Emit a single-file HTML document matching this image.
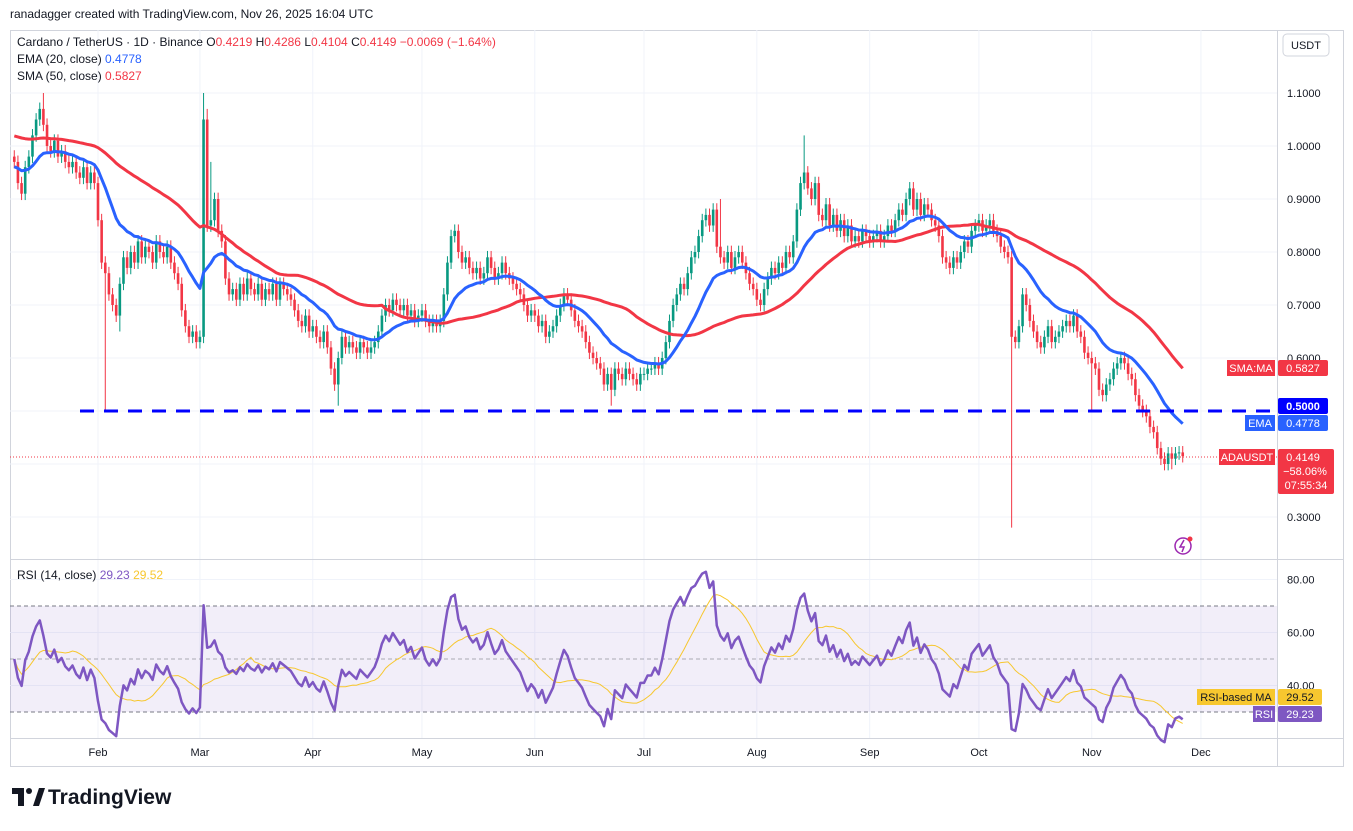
<!DOCTYPE html>
<html><head><meta charset="utf-8">
<style>
body{margin:0;background:#fff;font-family:"Liberation Sans",sans-serif;}
svg text{font-family:"Liberation Sans",sans-serif;}
</style></head>
<body>
<svg id="chart" width="1353" height="826" viewBox="0 0 1353 826" xmlns="http://www.w3.org/2000/svg">
<rect width="1353" height="826" fill="#fff"/>
<text x="10" y="18" font-size="12" fill="#131722">ranadagger created with TradingView.com, Nov 26, 2025 16:04 UTC</text>
<rect x="10.5" y="30.5" width="1333" height="736" fill="none" stroke="#d1d4dc"/>
<g id="grid"></g>
<rect x="10" y="606" width="1267" height="106" fill="#7e57c2" fill-opacity="0.1"/>
<line x1="10" x2="1277" y1="606" y2="606" stroke="#787b86" stroke-dasharray="4,3"/>
<line x1="10" x2="1277" y1="659" y2="659" stroke="#787b86" stroke-opacity="0.6" stroke-dasharray="4,3"/>
<line x1="10" x2="1277" y1="712" y2="712" stroke="#787b86" stroke-dasharray="4,3"/>
<line x1="10" x2="1343" y1="559.5" y2="559.5" stroke="#d1d4dc"/>
<line x1="1277.5" x2="1277.5" y1="30" y2="766" stroke="#d1d4dc"/>
<line x1="10" x2="1343" y1="738.5" y2="738.5" stroke="#d1d4dc"/>
<g id="candles"></g>
<g id="lines"></g>
<line x1="80" x2="1277" y1="411" y2="411" stroke="#0000ff" stroke-width="3" stroke-dasharray="14,10"/>
<line x1="10" x2="1277" y1="457" y2="457" stroke="#f23645" stroke-dasharray="1,2"/>
<g id="axes"></g>
<text x="17" y="46" font-size="12" fill="#131722">Cardano / TetherUS · 1D · Binance <tspan fill="#131722">O</tspan><tspan fill="#f23645">0.4219</tspan> <tspan fill="#131722">H</tspan><tspan fill="#f23645">0.4286</tspan> <tspan fill="#131722">L</tspan><tspan fill="#f23645">0.4104</tspan> <tspan fill="#131722">C</tspan><tspan fill="#f23645">0.4149 −0.0069 (−1.64%)</tspan></text>
<text x="17" y="63" font-size="12" fill="#131722">EMA (20, close) <tspan fill="#2962ff">0.4778</tspan></text>
<text x="17" y="80" font-size="12" fill="#131722">SMA (50, close) <tspan fill="#f23645">0.5827</tspan></text>
<text x="17" y="579" font-size="12" fill="#131722">RSI (14, close) <tspan fill="#7e57c2">29.23</tspan> <tspan fill="#f7c72f">29.52</tspan></text>
<rect x="1283" y="34" width="46" height="22" rx="4" fill="#fff" stroke="#d1d4dc"/>
<text x="1306" y="49" font-size="11" text-anchor="middle" fill="#131722">USDT</text>
<g><rect x="1227" y="360" width="48" height="16" fill="#f23645"/><text x="1251" y="372" font-size="11" fill="#fff" text-anchor="middle">SMA:MA</text><rect x="1278" y="360" width="50" height="16" rx="2" fill="#f23645"/><text x="1303" y="372" font-size="11" fill="#fff" text-anchor="middle">0.5827</text></g>
<g><rect x="1278" y="398" width="50" height="16" rx="2" fill="#0000ff"/><text x="1303" y="410" font-size="11" fill="#fff" text-anchor="middle" font-weight="bold">0.5000</text></g>
<g><rect x="1245" y="415" width="30" height="16" fill="#2962ff"/><text x="1260" y="427" font-size="11" fill="#fff" text-anchor="middle">EMA</text><rect x="1278" y="415" width="50" height="16" rx="2" fill="#2962ff"/><text x="1303" y="427" font-size="11" fill="#fff" text-anchor="middle">0.4778</text></g>
<g><rect x="1219" y="449" width="56" height="16" fill="#f23645"/><text x="1247" y="461" font-size="11" fill="#fff" text-anchor="middle">ADAUSDT</text><rect x="1278" y="449" width="56" height="45" rx="2" fill="#f23645"/><text x="1303" y="461" font-size="11" fill="#fff" text-anchor="middle">0.4149</text><text x="1305" y="475" font-size="11" fill="#fff" text-anchor="middle">−58.06%</text><text x="1306" y="489" font-size="11" fill="#fff" text-anchor="middle">07:55:34</text></g>
<g><rect x="1197" y="689" width="78" height="16" fill="#f7c72f"/><text x="1236" y="701" font-size="11" fill="#131722" text-anchor="middle">RSI-based MA</text><rect x="1278" y="689" width="44" height="16" rx="2" fill="#f7c72f"/><text x="1300" y="701" font-size="11" fill="#131722" text-anchor="middle">29.52</text></g>
<g><rect x="1253" y="706" width="22" height="16" fill="#7e57c2"/><text x="1264" y="718" font-size="11" fill="#fff" text-anchor="middle">RSI</text><rect x="1278" y="706" width="44" height="16" rx="2" fill="#7e57c2"/><text x="1300" y="718" font-size="11" fill="#fff" text-anchor="middle">29.23</text></g>
<g><circle cx="1183" cy="546" r="8" fill="none" stroke="#9c27b0" stroke-width="1.5"/><path d="M1184 540 L1180 547 L1184 547 L1182 552" fill="none" stroke="#9c27b0" stroke-width="1.5"/><circle cx="1190" cy="539" r="2.5" fill="#f23645"/></g>
<g><path d="M12 788 h12 v18 h-6 v-12 h-6z" fill="#131722"/><circle cx="29" cy="791" r="3" fill="#131722"/><path d="M33 806 L39 788 h6 l-6 18z" fill="#131722"/><text x="48" y="804" font-size="21" font-weight="bold" fill="#131722">TradingView</text></g>
</svg>
<script>
const closesJan=[0.97,0.93,0.91,0.96,0.98,1.02,1.05,1.07,1.04,1.00,0.99,1.01,0.98,0.99,0.97,0.96,0.97,0.95,0.94,0.96,0.93,0.95,0.93];
const closesFeb=[0.86,0.78,0.76,0.72,0.70,0.68,0.74,0.79,0.77,0.80,0.78,0.82,0.79,0.81,0.80,0.78,0.82,0.80,0.79,0.81,0.78,0.76,0.74,0.69,0.66,0.64,0.65,0.63];
const closesMar=[0.64,1.05,0.85,0.86,0.90,0.84,0.82,0.75,0.72,0.73,0.71,0.74,0.72,0.75,0.73,0.72,0.74,0.71,0.73,0.72,0.74,0.71,0.74,0.73,0.72,0.71,0.69,0.67,0.66,0.68,0.65];
const closesApr=[0.66,0.64,0.63,0.65,0.62,0.58,0.55,0.60,0.64,0.62,0.63,0.62,0.61,0.63,0.62,0.61,0.62,0.63,0.65,0.68,0.70,0.69,0.71,0.70,0.69,0.70,0.68,0.69,0.67,0.68];
const closesMay=[0.69,0.67,0.66,0.67,0.66,0.67,0.72,0.78,0.83,0.84,0.80,0.78,0.79,0.77,0.76,0.77,0.75,0.76,0.79,0.77,0.75,0.76,0.78,0.76,0.75,0.74,0.73,0.72,0.70,0.68,0.69];
const closesJun=[0.68,0.66,0.67,0.64,0.65,0.66,0.68,0.70,0.72,0.71,0.69,0.67,0.66,0.65,0.63,0.61,0.60,0.59,0.58,0.55,0.57,0.54,0.58,0.57,0.56,0.58,0.57,0.56,0.55,0.57];
const closesJul=[0.57,0.58,0.58,0.59,0.58,0.60,0.63,0.67,0.70,0.72,0.74,0.73,0.76,0.79,0.80,0.83,0.86,0.87,0.85,0.88,0.81,0.79,0.78,0.80,0.77,0.79,0.80,0.78,0.76,0.74,0.73];
const closesAug=[0.71,0.70,0.73,0.75,0.77,0.76,0.78,0.77,0.80,0.79,0.82,0.88,0.93,0.95,0.92,0.90,0.93,0.87,0.86,0.89,0.85,0.87,0.84,0.86,0.83,0.85,0.82,0.83,0.82,0.84,0.83];
const closesSep=[0.82,0.83,0.84,0.82,0.83,0.85,0.84,0.86,0.88,0.87,0.90,0.92,0.88,0.90,0.87,0.89,0.88,0.86,0.85,0.83,0.79,0.78,0.77,0.79,0.78,0.80,0.82,0.81,0.84,0.85];
const closesOct=[0.86,0.84,0.85,0.86,0.84,0.83,0.81,0.80,0.79,0.64,0.63,0.66,0.72,0.70,0.67,0.65,0.63,0.62,0.64,0.66,0.63,0.64,0.65,0.66,0.67,0.66,0.68,0.65,0.64,0.61,0.60];
const closesNov=[0.59,0.58,0.54,0.53,0.55,0.56,0.58,0.59,0.60,0.59,0.57,0.56,0.53,0.51,0.50,0.49,0.47,0.46,0.43,0.41,0.40,0.42,0.41,0.42,0.4219,0.4149];
const wickHighs=[[8,1.10],[52,1.10],[53,1.07],[54,0.97],[217,1.02],[194,0.90]];
const wickLows=[[25,0.50],[274,0.28],[29,0.65],[89,0.51],[164,0.51],[296,0.50],[318,0.39]];
const priceTicks=[1.1,1.0,0.9,0.8,0.7,0.6,0.3];
const rsiTicks=[80,60,40];
const monthLabels=["Feb","Mar","Apr","May","Jun","Jul","Aug","Sep","Oct","Nov","Dec"];
const monthStartIdx=[23,51,82,112,143,173,204,235,265,296,326];
const smaSeed=1.02, emaSeed=0.96;

const closes=[].concat(closesJan,closesFeb,closesMar,closesApr,closesMay,closesJun,closesJul,closesAug,closesSep,closesOct,closesNov);
const NS="http://www.w3.org/2000/svg";
const xOf=i=>98+(i-23)*3.64;
const yP=p=>411-(p-0.5)*530;
const yR=r=>659-(r-50)*2.65;
function mk(tag,attrs,parent){const e=document.createElementNS(NS,tag);for(const k in attrs)e.setAttribute(k,attrs[k]);parent.appendChild(e);return e;}
const grid=document.getElementById('grid'),cg=document.getElementById('candles'),lg=document.getElementById('lines'),ax=document.getElementById('axes');
[1.1,1.0,0.9,0.8,0.7,0.6,0.5,0.4,0.3].forEach(p=>mk('line',{x1:10,x2:1277,y1:yP(p),y2:yP(p),stroke:'#f0f3fa'},grid));
[80,60,40].forEach(r=>mk('line',{x1:10,x2:1277,y1:yR(r),y2:yR(r),stroke:'#f0f3fa'},grid));
monthStartIdx.forEach(i=>mk('line',{x1:xOf(i),x2:xOf(i),y1:30,y2:738,stroke:'#f0f3fa'},grid));
priceTicks.forEach(p=>{const t=mk('text',{x:1287,y:yP(p)+4,'font-size':11,fill:'#131722'},ax);t.textContent=p.toFixed(4);

});
rsiTicks.forEach(r=>{const t=mk('text',{x:1287,y:yR(r)+4,'font-size':11,fill:'#131722'},ax);t.textContent=r.toFixed(2);

});
monthLabels.forEach((m,k)=>{const t=mk('text',{x:xOf(monthStartIdx[k]),y:756,'font-size':11,fill:'#131722','text-anchor':'middle'},ax);t.textContent=m;

});
const hiMap={},loMap={};wickHighs.forEach(a=>hiMap[a[0]]=a[1]);wickLows.forEach(a=>loMap[a[0]]=a[1]);
closes.forEach((c,i)=>{
 const o=i===0?closes[0]+0.01:closes[i-1];
 const up=c>=o,col=up?'#089981':'#f23645';
 const h=hiMap[i]!==undefined?hiMap[i]:Math.max(o,c)+0.012;
 const l=loMap[i]!==undefined?loMap[i]:Math.min(o,c)-0.012;
 const x=xOf(i);
 const w=mk('line',{x1:x,x2:x,y1:yP(h),y2:yP(l),stroke:col,'stroke-width':1},cg);
 
 
 const yt=yP(Math.max(o,c)),yb=yP(Math.min(o,c));
 const b=mk('rect',{x:x-1.3,y:yt,width:2.6,height:Math.max(1,yb-yt),fill:col},cg);
 
 
});
const ema=[],sma=[];let e=emaSeed;const k=2/21;
closes.forEach((c,i)=>{e=c*k+e*(1-k);ema.push(e);
 let s=0;for(let j=i-49;j<=i;j++)s+=j>=0?closes[j]:smaSeed;sma.push(s/50);});
function path(arr,yf){return arr.map((v,i)=>(i?'L':'M')+xOf(i).toFixed(1)+' '+yf(v).toFixed(1)).join(' ');}
const sp=mk('path',{d:path(sma,yP),fill:'none',stroke:'#f23645','stroke-width':3,'stroke-linejoin':'round'},lg);


const ep=mk('path',{d:path(ema,yP),fill:'none',stroke:'#2962ff','stroke-width':3,'stroke-linejoin':'round'},lg);


const rsi=[];let ag=0.01,al=0.01;
closes.forEach((c,i)=>{const d=i?c-closes[i-1]:0;ag=(ag*13+Math.max(d,0))/14;al=(al*13+Math.max(-d,0))/14;rsi.push(100-100/(1+ag/al));});
const rsiMa=rsi.map((v,i)=>{let s=0,n=0;for(let j=Math.max(0,i-13);j<=i;j++){s+=rsi[j];n++;}return s/n;});
const mp=mk('path',{d:path(rsiMa,yR),fill:'none',stroke:'#f7c72f','stroke-width':1},lg);


const rp=mk('path',{d:path(rsi,yR),fill:'none',stroke:'#7e57c2','stroke-width':2.5,'stroke-linejoin':'round'},lg);


</script>
</body></html>
